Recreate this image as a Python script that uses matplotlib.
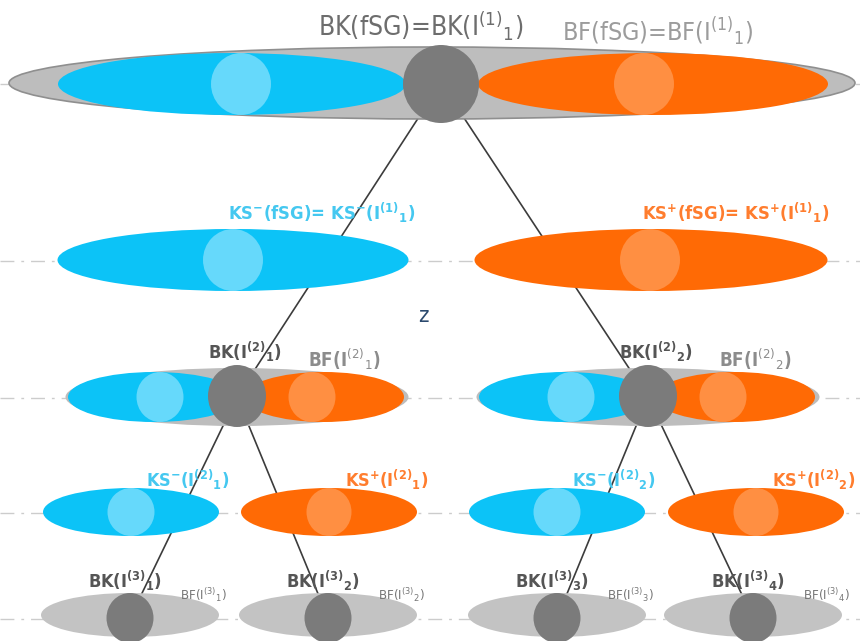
import matplotlib
matplotlib.use('Agg')
import matplotlib.pyplot as plt
from matplotlib.patches import Ellipse

plt.rcParams['font.family'] = ['DejaVu Sans']
plt.rcParams['font.stretch'] = 'condensed'
plt.rcParams['mathtext.fontset'] = 'custom'
plt.rcParams['mathtext.rm'] = 'DejaVu Sans:stretch=condensed'
plt.rcParams['mathtext.bf'] = 'DejaVu Sans:bold:stretch=condensed'
plt.rcParams['mathtext.it'] = 'DejaVu Sans:italic:stretch=condensed'

# ---------------- data (tree structure) ----------------
level_y = [83, 260, 397, 512, 618]          # row of each tree level
top_x = 441                                  # BK(fSG) node
l2_x = [237, 648]                            # BK(I(2)_k) nodes
l4_x = [130, 328, 557, 753]                  # BK(I(3)_k) nodes
l1_blue_x, l1_orange_x = 233, 651            # KS-/KS+ of fSG
l3_blue_x = [131, 557]
l3_orange_x = [329, 756]
edges = [((0, 0), (2, 0)), ((0, 0), (2, 1)),
         ((2, 0), (4, 0)), ((2, 0), (4, 1)),
         ((2, 1), (4, 2)), ((2, 1), (4, 3))]

top_bk_label = r'BK(fSG)=BK(I$^{(1)}{}_{1}$)'
top_bf_label = r'BF(fSG)=BF(I$^{(1)}{}_{1}$)'
l1_labels = [r'KS$^{\mathbf{-}}$(fSG)= KS$^{\mathbf{-}}$(I$^{\mathbf{(1)}}{}_{\mathbf{1}}$)',
             r'KS$^{\mathbf{+}}$(fSG)= KS$^{\mathbf{+}}$(I$^{\mathbf{(1)}}{}_{\mathbf{1}}$)']
l2_bk_labels = [r'BK(I$^{\mathbf{(2)}}{}_{\mathbf{1}}$)', r'BK(I$^{\mathbf{(2)}}{}_{\mathbf{2}}$)']
l2_bf_labels = [r'BF(I$^{(2)}{}_{1}$)', r'BF(I$^{(2)}{}_{2}$)']
l3_minus_labels = [r'KS$^{\mathbf{-}}$(I$^{\mathbf{(2)}}{}_{\mathbf{1}}$)', r'KS$^{\mathbf{-}}$(I$^{\mathbf{(2)}}{}_{\mathbf{2}}$)']
l3_plus_labels = [r'KS$^{\mathbf{+}}$(I$^{\mathbf{(2)}}{}_{\mathbf{1}}$)', r'KS$^{\mathbf{+}}$(I$^{\mathbf{(2)}}{}_{\mathbf{2}}$)']
l4_bk_labels = [r'BK(I$^{\mathbf{(3)}}{}_{\mathbf{%d}}$)' % i for i in range(1, 5)]
l4_bf_labels = [r'BF(I$^{(3)}{}_{%d}$)' % i for i in range(1, 5)]

# ---------------- styles ----------------
BLUE = '#0cc3f7'
BLUE_L = '#66d9fb'
ORANGE = '#ff6a05'
ORANGE_L = '#ff8f42'
GRAY = '#bdbdbd'
DARK = '#7b7b7b'
T_BLUE = '#45c8f0'
T_ORANGE = '#ff7d2e'
T_BK = '#555555'
T_BF = '#8c8c8c'

fig = plt.figure(figsize=(8.6, 6.41), dpi=100)
ax = fig.add_axes([0, 0, 1, 1])
ax.set_xlim(0, 860)
ax.set_ylim(641, 0)
ax.axis('off')


def ell(x, y, w, h, color, z, ec='none', lw=0):
    ax.add_patch(Ellipse((x, y), w, h, facecolor=color, edgecolor=ec, linewidth=lw, zorder=z))


# dash-dot guide lines
for y in level_y:
    ax.plot([0, 860], [y + 1, y + 1], color='#cccccc', lw=1.0,
            linestyle=(0, (10, 5, 2, 5)), zorder=1)

# connecting lines
node_x = {0: [top_x], 2: l2_x, 4: l4_x}
for (la, ia), (lb, ib) in edges:
    ax.plot([node_x[la][ia], node_x[lb][ib]], [level_y[la], level_y[lb]],
            color='#3c3c3c', lw=1.2, zorder=2)

# level 0
y0 = level_y[0]
ell(432, y0, 846, 72, GRAY, 3, ec='#8f8f8f', lw=1.2)
ell(232, y0 + 1, 348, 62, BLUE, 4)
ell(241, y0 + 1, 60, 62, BLUE_L, 5)
ell(653, y0 + 1, 350, 62, ORANGE, 4)
ell(644, y0 + 1, 60, 62, ORANGE_L, 5)
ell(top_x, y0 + 1, 76, 78, DARK, 6)

# level 1
y1 = level_y[1]
ell(l1_blue_x, y1, 351, 62, BLUE, 4)
ell(l1_blue_x, y1, 60, 62, BLUE_L, 5)
ell(l1_orange_x, y1, 353, 62, ORANGE, 4)
ell(l1_orange_x - 1, y1, 60, 62, ORANGE_L, 5)

# level 2
y2 = level_y[2]
for x in l2_x:
    ell(x, y2, 343, 58, GRAY, 3)
    ell(x - 83, y2, 172, 50, BLUE, 4)
    ell(x - 77, y2, 47, 50, BLUE_L, 5)
    ell(x + 87, y2, 160, 50, ORANGE, 4)
    ell(x + 75, y2, 47, 50, ORANGE_L, 5)
    ell(x, y2 - 1, 58, 62, DARK, 6)

# level 3
y3 = level_y[3]
for x in l3_blue_x:
    ell(x, y3, 176, 48, BLUE, 4)
    ell(x, y3, 47, 48, BLUE_L, 5)
for x in l3_orange_x:
    ell(x, y3, 176, 48, ORANGE, 4)
    ell(x, y3, 45, 48, ORANGE_L, 5)

# level 4
y4 = level_y[4]
for x in l4_x:
    ell(x, y4 - 3, 178, 44, '#c3c3c3', 3)
    ell(x, y4, 47, 50, DARK, 6)

# ---------------- texts ----------------
ax.text(421, 25, top_bk_label, fontsize=19, color='#6d6d6d', ha='center', va='center', zorder=8)
ax.text(658, 32, top_bf_label, fontsize=18, color='#9c9c9c', ha='center', va='center', zorder=8)

ax.text(415, 213, l1_labels[0], fontsize=13.2, color=T_BLUE, fontweight='bold', ha='right', va='center', zorder=8)
ax.text(829, 213, l1_labels[1], fontsize=13.2, color=T_ORANGE, fontweight='bold', ha='right', va='center', zorder=8)

for x, bk, bf in zip(l2_x, l2_bk_labels, l2_bf_labels):
    ax.text(x + 8, 352, bk, fontsize=13, color=T_BK, fontweight='bold', ha='center', va='center', zorder=8)
    ax.text(x + 107, 359, bf, fontsize=13.5, color=T_BF, fontweight='bold', ha='center', va='center', zorder=8)

for x, lab in zip(l3_blue_x, l3_minus_labels):
    ax.text(x + 57, 480, lab, fontsize=13, color=T_BLUE, fontweight='bold', ha='center', va='center', zorder=8)
for x, lab in zip(l3_orange_x, l3_plus_labels):
    ax.text(x + 58, 480, lab, fontsize=13, color=T_ORANGE, fontweight='bold', ha='center', va='center', zorder=8)

for x, bk, bf in zip(l4_x, l4_bk_labels, l4_bf_labels):
    ax.text(x - 5, 581, bk, fontsize=13, color=T_BK, fontweight='bold', ha='center', va='center', zorder=8)
    ax.text(x + 73, 595, bf, fontsize=9.5, color='#777777', ha='center', va='center', zorder=8)

ax.text(423, 316, 'z', fontsize=16, color='#2b4a6e', ha='center', va='center', zorder=8)

fig.savefig('out.png', dpi=100)
